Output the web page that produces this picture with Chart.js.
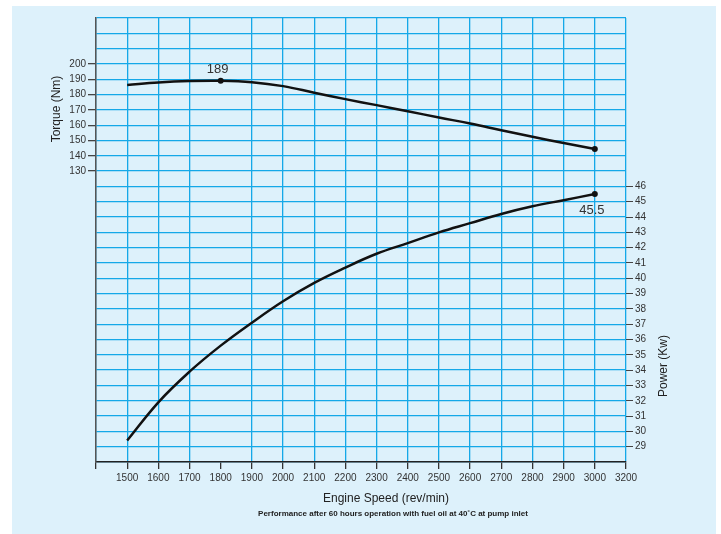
<!DOCTYPE html>
<html>
<head>
<meta charset="utf-8">
<script src="https://cdn.jsdelivr.net/npm/chart.js@4"></script>
<style>
    html, body { margin: 0; padding: 0; background: #ffffff; }
    #wrap { width: 721px; height: 534px; }
</style>
</head>
<body>
<div id="wrap"><canvas id="perfChart" width="721" height="534"></canvas></div>
<script>
// x axis is evenly spaced: 1400 (unlabelled) ... 3000, then 3200
const speedLabels = ["1400", "1500", "1600", "1700", "1800", "1900", "2000", "2100", "2200",
    "2300", "2400", "2500", "2600", "2700", "2800", "2900", "3000", "3200"];
const speeds = ["1500", "1600", "1700", "1800", "1900", "2000", "2100", "2200",
    "2300", "2400", "2500", "2600", "2700", "2800", "2900", "3000"];
const torque = [186.3, 187.9, 188.8, 189, 188.1, 185.5, 181.2, 177,
    173.1, 169.1, 165, 161.1, 156.7, 152.4, 148.4, 144.5];
const power = [29.4, 31.9, 33.9, 35.6, 37.1, 38.5, 39.7, 40.7,
    41.6, 42.3, 43.0, 43.6, 44.2, 44.7, 45.1, 45.5];
const torqueTicks = [130, 140, 150, 160, 170, 180, 190, 200];
const powerTicks = [29, 30, 31, 32, 33, 34, 35, 36, 37, 38, 39, 40, 41, 42, 43, 44, 45, 46];

const FONT = "'Liberation Sans', Arial, Helvetica, sans-serif";
const GRID = "#14a8e8";
const PANEL = "#ddf1fb";

const peakIdx = torque.indexOf(Math.max(...torque));
const lastIdx = speeds.length - 1;

const panelPlugin = {
    id: "panel",
    beforeDraw(chart) {
        const c = chart.ctx;
        c.save();
        c.fillStyle = PANEL;
        c.fillRect(12, 6, 704, 528);
        c.restore();
    }
};

const textPlugin = {
    id: "texts",
    afterDraw(chart) {
        const c = chart.ctx;
        c.save();
        c.fillStyle = "#222";
        c.textAlign = "center";
        c.textBaseline = "middle";
        c.font = "12px " + FONT;
        c.fillText("Engine Speed (rev/min)", 386, 499);
        c.font = "bold 8px " + FONT;
        c.fillText("Performance after 60 hours operation with fuel oil at 40\u02DAC at pump inlet", 393, 514);

        c.font = "12px " + FONT;
        c.save();
        c.translate(57, 109);
        c.rotate(-Math.PI / 2);
        c.fillText("Torque (Nm)", 0, 0);
        c.restore();
        c.save();
        c.translate(664, 366);
        c.rotate(-Math.PI / 2);
        c.fillText("Power (Kw)", 0, 0);
        c.restore();

        // value labels at the marked points
        c.font = "13px " + FONT;
        c.fillStyle = "#333";
        const pk = chart.getDatasetMeta(0).data[peakIdx];
        c.fillText(String(torque[peakIdx]), pk.x - 3, pk.y - 11);
        const pw = chart.getDatasetMeta(1).data[lastIdx];
        c.fillText(String(power[lastIdx]), pw.x - 3, pw.y + 16);
        c.restore();
    }
};

new Chart(document.getElementById("perfChart"), {
    type: "line",
    data: {
        labels: speedLabels,
        datasets: [{
                label: "Torque",
                data: speeds.map((s, i) => ({x: s, y: torque[i]})),
                yAxisID: "yT",
                borderColor: "#111",
                borderWidth: 2.5,
                tension: 0.4,
                pointRadius: (ctx) => (ctx.dataIndex === peakIdx || ctx.dataIndex === lastIdx) ? 3 : 0,
                pointBackgroundColor: "#111",
                pointBorderWidth: 0
            }, {
                label: "Power",
                data: speeds.map((s, i) => ({x: s, y: power[i]})),
                yAxisID: "yP",
                borderColor: "#111",
                borderWidth: 2.5,
                tension: 0.4,
                pointRadius: (ctx) => ctx.dataIndex === lastIdx ? 3 : 0,
                pointBackgroundColor: "#111",
                pointBorderWidth: 0
            }]
    },
    options: {
        responsive: false,
        animation: false,
        layout: {padding: {top: 18, left: 0, right: 0, bottom: 0}},
        plugins: {
            legend: {display: false},
            tooltip: {enabled: false}
        },
        scales: {
            x: {
                type: "category",
                offset: false,
                afterFit: (s) => { s.height = 72; },
                border: {color: "#222", width: 1.5},
                grid: {
                    color: (ctx) => speedLabels[ctx.index] === "1800" ? "rgba(0,0,0,0)" : GRID,
                    lineWidth: 1.3,
                    tickColor: "#333",
                    tickLength: 7
                },
                ticks: {
                    autoSkip: false,
                    maxRotation: 0,
                    padding: 3,
                    color: "#333",
                    font: {family: FONT, size: 10},
                    callback: function (value, index) {
                        return index === 0 ? "" : speedLabels[index];
                    }
                }
            },
            yT: {
                type: "linear",
                position: "left",
                min: -60,
                max: 230,
                afterFit: (s) => { s.width = 96; },
                afterBuildTicks: (s) => {
                    s.ticks = [];
                    for (let v = -60; v <= 230; v += 10) s.ticks.push({value: v});
                },
                border: {color: "#555", width: 1.5},
                grid: {
                    color: GRID,
                    lineWidth: 1.3,
                    tickColor: (ctx) => torqueTicks.includes(ctx.tick.value) ? "#444" : "rgba(0,0,0,0)",
                    tickLength: 8
                },
                ticks: {
                    padding: 2,
                    color: "#333",
                    font: {family: FONT, size: 10},
                    callback: (v) => torqueTicks.includes(v) ? v : ""
                }
            },
            yP: {
                type: "linear",
                position: "right",
                min: 28,
                max: 57,
                afterFit: (s) => { s.width = 95; },
                afterBuildTicks: (s) => {
                    s.ticks = [];
                    for (let v = 28; v <= 57; v += 1) s.ticks.push({value: v});
                },
                border: {display: false},
                grid: {
                    drawOnChartArea: false,
                    tickColor: (ctx) => powerTicks.includes(ctx.tick.value) ? "#444" : "rgba(0,0,0,0)",
                    tickLength: 7
                },
                ticks: {
                    padding: 2,
                    color: "#333",
                    font: {family: FONT, size: 10},
                    callback: (v) => powerTicks.includes(v) ? v : ""
                }
            }
        }
    },
    plugins: [panelPlugin, textPlugin]
});
</script>
</body>
</html>
